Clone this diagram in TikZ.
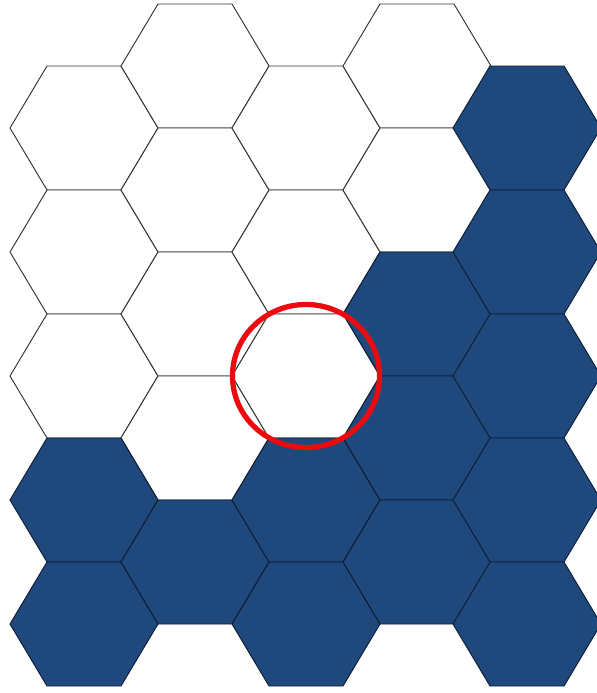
\documentclass[tikz,border=0pt]{standalone}
\usepackage{tikz}
\usetikzlibrary{positioning}
\usepackage{xcolor}
\definecolor{hexblue}{RGB}{31,73,125}
\definecolor{hexedge}{RGB}{12,28,52}
\definecolor{ringred}{RGB}{235,10,14}

\begin{document}
\begin{tikzpicture}[
    x=0.03cm, y=-0.03cm,
    hexcell/.pic={\path[pic actions] (-37,-62) -- (37,-62) -- (74,0) -- (37,62) -- (-37,62) -- (-74,0) -- cycle;},
    whitecell/.style={draw=black!80, fill=white, line width=0.8pt},
    bluecell/.style={draw=hexedge, fill=hexblue, line width=0.8pt},
    ring/.style={draw=ringred, line width=4.5pt}
]
    \useasboundingbox (0,0) rectangle (597,693);

    % Free cells
    \pic[whitecell] (c0r0) at (84,128) {hexcell};
    \pic[whitecell] (c0r1) at (84,252) {hexcell};
    \pic[whitecell] (c0r2) at (84,376) {hexcell};
    \pic[whitecell] (c1r0) at (195,66) {hexcell};
    \pic[whitecell] (c1r1) at (195,190) {hexcell};
    \pic[whitecell] (c1r2) at (195,314) {hexcell};
    \pic[whitecell] (c1r3) at (195,438) {hexcell};
    \pic[whitecell] (c2r0) at (306,128) {hexcell};
    \pic[whitecell] (c2r1) at (306,252) {hexcell};
    \pic[whitecell] (c2r2) at (306,376) {hexcell};
    \pic[whitecell] (c3r0) at (417,66) {hexcell};
    \pic[whitecell] (c3r1) at (417,190) {hexcell};

    % Taken cells
    \pic[bluecell] (c0r3) at (84,500) {hexcell};
    \pic[bluecell] (c0r4) at (84,624) {hexcell};
    \pic[bluecell] (c1r4) at (195,562) {hexcell};
    \pic[bluecell] (c2r3) at (306,500) {hexcell};
    \pic[bluecell] (c2r4) at (306,624) {hexcell};
    \pic[bluecell] (c3r2) at (417,314) {hexcell};
    \pic[bluecell] (c3r3) at (417,438) {hexcell};
    \pic[bluecell] (c3r4) at (417,562) {hexcell};
    \pic[bluecell] (c4r0) at (527,128) {hexcell};
    \pic[bluecell] (c4r1) at (527,252) {hexcell};
    \pic[bluecell] (c4r2) at (527,376) {hexcell};
    \pic[bluecell] (c4r3) at (527,500) {hexcell};
    \pic[bluecell] (c4r4) at (527,624) {hexcell};

    % Marked cell
    \coordinate (mark) at (306,376);
    \draw[ring] (mark) ellipse [x radius=73.5, y radius=71.5];

\end{tikzpicture}
\end{document}
